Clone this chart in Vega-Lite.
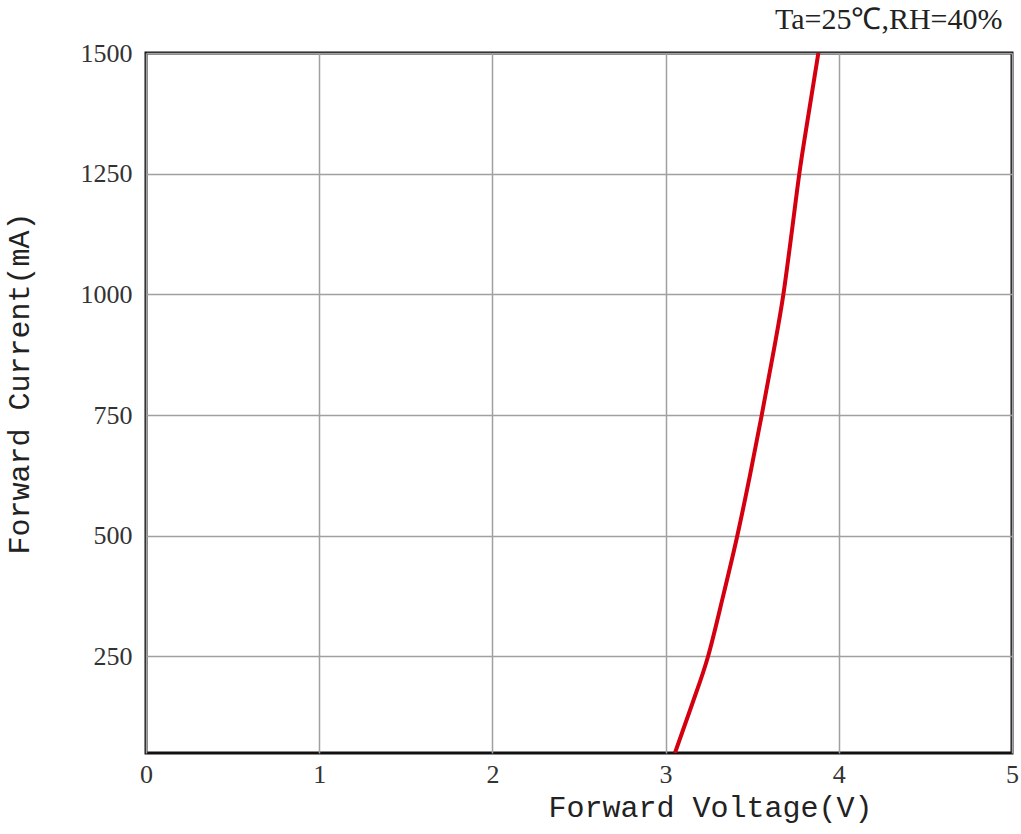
{
  "$schema": "https://vega.github.io/schema/vega-lite/v6.json",
  "width": 866,
  "height": 700,
  "autosize": {"type": "none"},
  "padding": {"left": 146, "top": 53, "right": 9, "bottom": 81},
  "background": "white",
  "title": {
    "text": "Ta=25℃,RH=40%",
    "anchor": "end",
    "font": "Liberation Serif",
    "fontSize": 30,
    "fontWeight": "normal",
    "color": "#222",
    "offset": 5,
    "dx": -16
  },
  "config": {
    "view": {"stroke": "#111", "strokeWidth": 3},
    "axis": {
      "grid": true,
      "gridColor": "#a0a0a0",
      "gridWidth": 1.5,
      "domain": false,
      "ticks": false,
      "format": "d",
      "labelFlush": false,
      "labelFont": "Liberation Serif",
      "labelFontSize": 26,
      "labelColor": "#333",
      "titleFont": "Liberation Mono",
      "titleFontSize": 30,
      "titleFontWeight": "normal",
      "titleColor": "#222"
    }
  },
  "data": {
    "values": [
      {"v": 3.054, "i": 50},
      {"v": 3.152, "i": 150},
      {"v": 3.245, "i": 250},
      {"v": 3.332, "i": 375},
      {"v": 3.414, "i": 500},
      {"v": 3.487, "i": 625},
      {"v": 3.555, "i": 750},
      {"v": 3.62, "i": 875},
      {"v": 3.68, "i": 1000},
      {"v": 3.727, "i": 1125},
      {"v": 3.772, "i": 1250},
      {"v": 3.826, "i": 1375},
      {"v": 3.882, "i": 1500}
    ]
  },
  "mark": {"type": "line", "color": "#d40010", "strokeWidth": 4, "interpolate": "monotone", "clip": true},
  "encoding": {
    "x": {
      "field": "v",
      "type": "quantitative",
      "scale": {"domain": [0, 5], "nice": false},
      "axis": {"values": [0, 1, 2, 3, 4, 5], "title": "Forward Voltage(V)", "labelPadding": 8, "titlePadding": 5, "titleX": 564}
    },
    "y": {
      "field": "i",
      "type": "quantitative",
      "scale": {"domain": [50, 1500], "nice": false, "zero": false},
      "axis": {"values": [250, 500, 750, 1000, 1250, 1500], "title": "Forward Current(mA)", "labelPadding": 14, "titleX": -112, "titleY": 330}
    }
  }
}
